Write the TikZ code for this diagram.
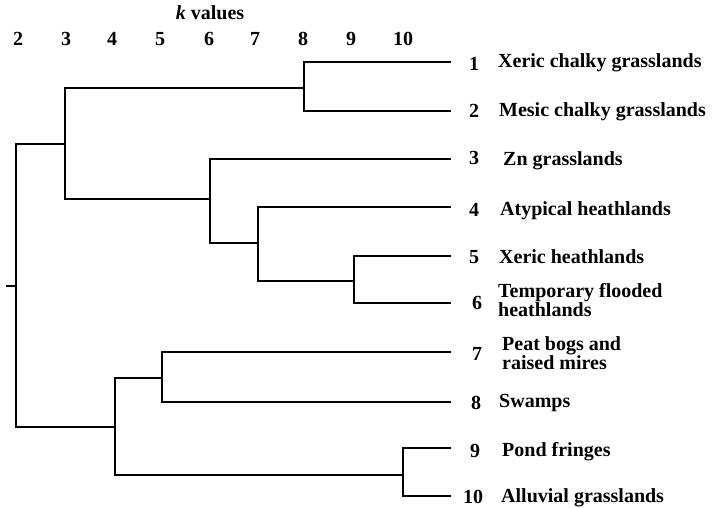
\documentclass[tikz,border=0pt]{standalone}
\usepackage{fontspec}
\newfontfamily\labfont{Liberation Serif}[BoldFont={Liberation Serif Bold},BoldItalicFont={Liberation Serif Bold Italic}]
\begin{document}
\begin{tikzpicture}[x=1pt,y=-1pt,
  branch/.style={line width=1.4pt, line cap=rect},
  txt/.style={font=\labfont\bfseries\fontsize{20}{17.5}\selectfont, inner sep=0pt},
  numlab/.style={txt, anchor=center},
  namelab/.style={txt, anchor=west, align=left},
  klab/.style={txt, anchor=center}]
\useasboundingbox (0,0) rectangle (714,508);
% header
\node[klab] (ktitle) at (210,13) {\itshape k\upshape{} values};
\foreach \k/\x in {2/18,3/66,4/112,5/160,6/209,7/255,8/303,9/351,10/403}
  \node[klab] (kv\k) at (\x,39) {\k};
% leaf ends
\coordinate (L1) at (450,62);
\coordinate (L2) at (450,111);
\coordinate (L3) at (450,159);
\coordinate (L4) at (450,207);
\coordinate (L5) at (450,256);
\coordinate (L6) at (450,303);
\coordinate (L7) at (450,352);
\coordinate (L8) at (450,402);
\coordinate (L9) at (450,448);
\coordinate (L10) at (450,496);
% internal nodes
\coordinate (n12) at (304,88);
\coordinate (n56) at (354,281);
\coordinate (n456) at (258,243);
\coordinate (n3456) at (210,199);
\coordinate (nA) at (65,144);
\coordinate (n78) at (162,378);
\coordinate (n910) at (403,475);
\coordinate (nB) at (115,427);
\coordinate (root) at (16,286);
\coordinate (tick) at (7,286);
% branches
\draw[branch] (L1) -| (n12) |- (L2);
\draw[branch] (L5) -| (n56) |- (L6);
\draw[branch] (L4) -| (n456) |- (n56);
\draw[branch] (L3) -| (n3456) |- (n456);
\draw[branch] (n12) -| (nA) |- (n3456);
\draw[branch] (L7) -| (n78) |- (L8);
\draw[branch] (L9) -| (n910) |- (L10);
\draw[branch] (n78) -| (nB) |- (n910);
\draw[branch] (nA) -| (root) |- (nB);
\draw[branch] (tick) -- (root);
% labels
\node[numlab] (num1) at (474,64) {1};
\node[numlab] (num2) at (474,111) {2};
\node[numlab] (num3) at (474,158) {3};
\node[numlab] (num4) at (474,210) {4};
\node[numlab] (num5) at (474,257) {5};
\node[numlab] (num6) at (477,303) {6};
\node[numlab] (num7) at (477,354) {7};
\node[numlab] (num8) at (476,403) {8};
\node[numlab] (num9) at (475,451) {9};
\node[numlab] (num10) at (473,497) {10};
\node[namelab] (lab1) at (498,63) {Xeric chalky grasslands};
\node[namelab] (lab2) at (499,112) {Mesic chalky grasslands};
\node[namelab] (lab3) at (503,161) {Zn grasslands};
\node[namelab] (lab4) at (500,211) {Atypical heathlands};
\node[namelab] (lab5) at (499,257) {Xeric heathlands};
\node[namelab] (lab6) at (498,300) {Temporary flooded\\heathlands};
\node[namelab] (lab7) at (502,353) {Peat bogs and\\raised mires};
\node[namelab] (lab8) at (499,403) {Swamps};
\node[namelab] (lab9) at (502,452) {Pond fringes};
\node[namelab] (lab10) at (501,498) {Alluvial grasslands};
\end{tikzpicture}
\end{document}
